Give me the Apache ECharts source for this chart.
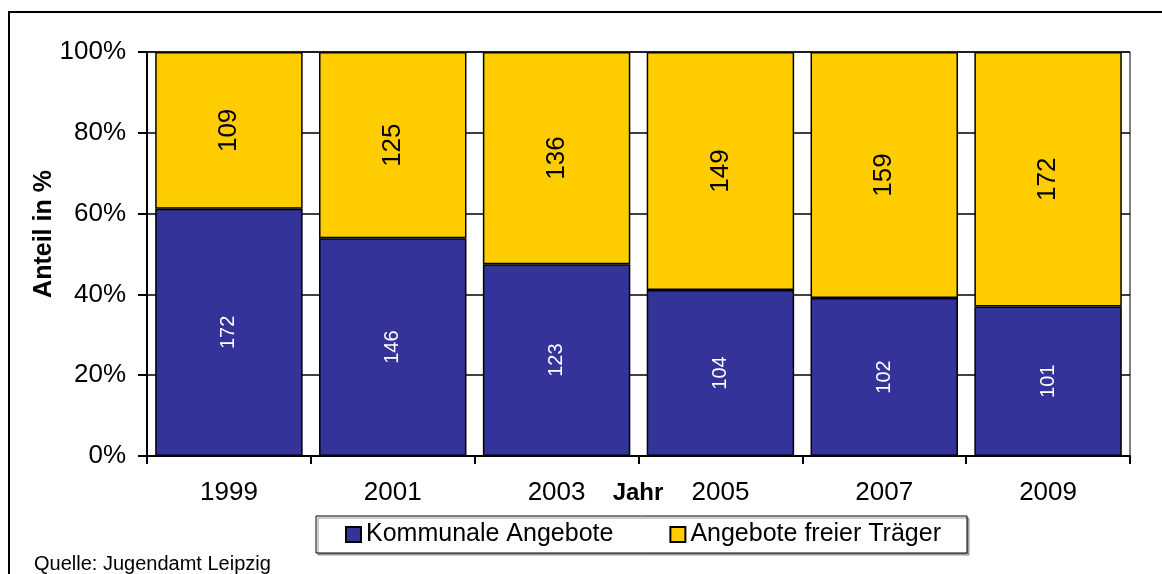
<!DOCTYPE html>
<html>
<head>
    <meta charset="utf-8">
    <title>Angebote Jugendhilfe</title>
    <script src="https://cdn.jsdelivr.net/npm/echarts@6/dist/echarts.min.js"></script>
    <style>
        body { margin: 0; background: #fff; }
    </style>
</head>
<body>
<div id="main" style="width: 1162px;height:574px;"></div>

<script type="text/javascript">
    // Werte
    var jahre = ['1999', '2001', '2003', '2005', '2007', '2009'];
    var kommunal = [172, 146, 123, 104, 102, 101];
    var freieTraeger = [109, 125, 136, 149, 159, 172];
    var yTicks = ['0%', '20%', '40%', '60%', '80%', '100%'];

    // Anteile in Prozent fuer gestapelte 100%-Balken
    var kommunalProz = [];
    var freiProz = [];
    for (var i = 0; i < jahre.length; i++) {
        var summe = kommunal[i] + freieTraeger[i];
        kommunalProz.push(kommunal[i] / summe * 100);
        freiProz.push(freieTraeger[i] / summe * 100);
    }

    var schrift = 'Liberation Sans, Arial, sans-serif';
    var myChart = echarts.init(document.getElementById('main'));

    myChart.setOption({
        animation: false,
        backgroundColor: '#fff',
        textStyle: { fontFamily: schrift },
        grid: {
            left: 147,
            right: 32,
            top: 52,
            bottom: 118,
            show: true,
            borderColor: '#000',
            borderWidth: 1
        },
        graphic: [
            {
                type: 'rect',
                shape: { x: 9, y: 12, width: 1170, height: 600 },
                style: { fill: 'none', stroke: '#000', lineWidth: 2 },
                silent: true
            },
            {
                type: 'text',
                x: 44,
                y: 234,
                rotation: Math.PI / 2,
                style: {
                    text: 'Anteil in %',
                    font: 'bold 25px ' + schrift,
                    fill: '#000',
                    align: 'center',
                    verticalAlign: 'middle'
                }
            },
            {
                type: 'text',
                x: 638,
                y: 493,
                style: {
                    text: 'Jahr',
                    font: 'bold 24px ' + schrift,
                    fill: '#000',
                    align: 'center',
                    verticalAlign: 'middle'
                }
            },
            {
                type: 'text',
                left: 34,
                top: 554,
                style: {
                    text: 'Quelle: Jugendamt Leipzig',
                    font: '20px ' + schrift,
                    fill: '#000'
                }
            }
        ],
        legend: {
            left: 316,
            top: 516,
            orient: 'horizontal',
            padding: [6, 26, 6, 29],
            itemGap: 56,
            itemWidth: 15,
            itemHeight: 15,
            icon: 'rect',
            backgroundColor: '#fff',
            borderColor: '#000',
            borderWidth: 1,
            shadowColor: '#999',
            shadowBlur: 0,
            shadowOffsetX: 2,
            shadowOffsetY: 2,
            textStyle: { fontSize: 25, color: '#000', fontFamily: schrift },
            data: ['Kommunale Angebote', 'Angebote freier Träger']
        },
        xAxis: {
            type: 'category',
            data: jahre,
            axisLine: { lineStyle: { color: '#000', width: 2 } },
            axisTick: { show: true, length: 8, lineStyle: { color: '#000', width: 2 } },
            axisLabel: { fontSize: 26, color: '#000', margin: 24 }
        },
        yAxis: {
            type: 'value',
            min: 0,
            max: 100,
            interval: 20,
            axisLine: { show: true, lineStyle: { color: '#000', width: 2 } },
            axisTick: { show: true, length: 9, lineStyle: { color: '#000', width: 2 } },
            axisLabel: {
                fontSize: 26,
                color: '#000',
                margin: 21,
                formatter: function (v) { return yTicks[Math.round(v / 20)]; }
            },
            splitLine: { show: true, lineStyle: { color: '#000', width: 1.5 } }
        },
        series: [
            {
                name: 'Kommunale Angebote',
                type: 'bar',
                stack: 'anteil',
                barCategoryGap: '10%',
                data: kommunalProz,
                itemStyle: { color: '#333399', borderColor: '#000', borderWidth: 1.5 },
                label: {
                    show: true,
                    position: 'inside',
                    rotate: 90,
                    fontSize: 20,
                    color: '#fff',
                    fontFamily: schrift,
                    formatter: function (p) { return kommunal[p.dataIndex]; }
                }
            },
            {
                name: 'Angebote freier Träger',
                type: 'bar',
                stack: 'anteil',
                barCategoryGap: '10%',
                data: freiProz,
                itemStyle: { color: '#FFCC00', borderColor: '#000', borderWidth: 1.5 },
                label: {
                    show: true,
                    position: 'inside',
                    rotate: 90,
                    fontSize: 26,
                    color: '#000',
                    fontFamily: schrift,
                    formatter: function (p) { return freieTraeger[p.dataIndex]; }
                }
            }
        ]
    });
</script>
</body>
</html>
